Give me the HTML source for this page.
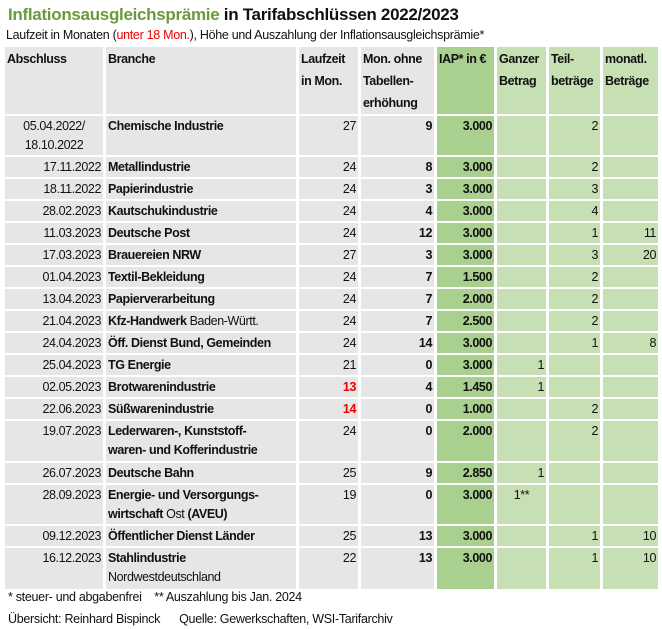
<!DOCTYPE html>
<html><head><meta charset="utf-8"><style>
body{margin:0;background:#fff;width:662px;height:629px;overflow:hidden;font-family:"Liberation Sans",sans-serif;color:#111;}
.t{position:absolute;left:8px;top:5px;font-size:17px;font-weight:bold;letter-spacing:-0.3px;}
.t span{color:#6b9a3c}
.s{position:absolute;left:6px;top:28px;font-size:12.5px;letter-spacing:-0.3px;}
table{position:absolute;left:2px;top:45px;width:659px;table-layout:fixed;border-collapse:separate;border-spacing:3px 2px;font-size:12.5px;letter-spacing:-0.4px;}
td{padding:1px 2px 0 2px;vertical-align:top;line-height:19px;background:#e6e6e6;white-space:nowrap;overflow:hidden}
td.g{background:#a9d08e;font-weight:bold;text-align:right}
td.l{background:#c6e0b4;text-align:right}
td.r{text-align:right}
td.b{font-weight:bold;text-align:right}
.n{font-weight:normal}
tr.h td{font-weight:bold;text-align:left;height:65px;line-height:22px}
tr td:nth-child(2){font-weight:bold}
.red{color:#e00}
.f{position:absolute;left:8px;font-size:12.5px;letter-spacing:-0.3px}
</style></head><body>
<div class="t"><span>Inflationsausgleichsprämie</span> in Tarifabschlüssen 2022/2023</div>
<div class="s">Laufzeit in Monaten (<span class="red">unter 18 Mon.</span>), Höhe und Auszahlung der Inflationsausgleichsprämie*</div>
<table>
<colgroup><col style="width:98px"><col style="width:190px"><col style="width:59px"><col style="width:73px"><col style="width:57px"><col style="width:49px"><col style="width:51px"><col style="width:55px"></colgroup>
<tr class="h"><td>Abschluss</td><td>Branche</td><td>Laufzeit<br>in Mon.</td><td>Mon. ohne<br>Tabellen-<br>erhöhung</td><td class="g" style="text-align:left">IAP* in €</td><td class="l" style="text-align:left">Ganzer<br>Betrag</td><td class="l" style="text-align:left">Teil-<br>beträge</td><td class="l" style="text-align:left">monatl.<br>Beträge</td></tr>
<tr style="height:38px"><td class="r" style="text-align:center">05.04.2022/<br>18.10.2022</td><td>Chemische Industrie</td><td class="r">27</td><td class="b">9</td><td class="g">3.000</td><td class="l"></td><td class="l">2</td><td class="l"></td></tr>
<tr><td class="r">17.11.2022</td><td>Metallindustrie</td><td class="r">24</td><td class="b">8</td><td class="g">3.000</td><td class="l"></td><td class="l">2</td><td class="l"></td></tr>
<tr><td class="r">18.11.2022</td><td>Papierindustrie</td><td class="r">24</td><td class="b">3</td><td class="g">3.000</td><td class="l"></td><td class="l">3</td><td class="l"></td></tr>
<tr><td class="r">28.02.2023</td><td>Kautschukindustrie</td><td class="r">24</td><td class="b">4</td><td class="g">3.000</td><td class="l"></td><td class="l">4</td><td class="l"></td></tr>
<tr><td class="r">11.03.2023</td><td>Deutsche Post</td><td class="r">24</td><td class="b">12</td><td class="g">3.000</td><td class="l"></td><td class="l">1</td><td class="l">11</td></tr>
<tr><td class="r">17.03.2023</td><td>Brauereien NRW</td><td class="r">27</td><td class="b">3</td><td class="g">3.000</td><td class="l"></td><td class="l">3</td><td class="l">20</td></tr>
<tr><td class="r">01.04.2023</td><td>Textil-Bekleidung</td><td class="r">24</td><td class="b">7</td><td class="g">1.500</td><td class="l"></td><td class="l">2</td><td class="l"></td></tr>
<tr><td class="r">13.04.2023</td><td>Papierverarbeitung</td><td class="r">24</td><td class="b">7</td><td class="g">2.000</td><td class="l"></td><td class="l">2</td><td class="l"></td></tr>
<tr><td class="r">21.04.2023</td><td>Kfz-Handwerk <span class="n">Baden-Württ.</span></td><td class="r">24</td><td class="b">7</td><td class="g">2.500</td><td class="l"></td><td class="l">2</td><td class="l"></td></tr>
<tr><td class="r">24.04.2023</td><td>Öff. Dienst Bund, Gemeinden</td><td class="r">24</td><td class="b">14</td><td class="g">3.000</td><td class="l"></td><td class="l">1</td><td class="l">8</td></tr>
<tr><td class="r">25.04.2023</td><td>TG Energie</td><td class="r">21</td><td class="b">0</td><td class="g">3.000</td><td class="l">1</td><td class="l"></td><td class="l"></td></tr>
<tr><td class="r">02.05.2023</td><td>Brotwarenindustrie</td><td class="r red" style="font-weight:bold">13</td><td class="b">4</td><td class="g">1.450</td><td class="l">1</td><td class="l"></td><td class="l"></td></tr>
<tr><td class="r">22.06.2023</td><td>Süßwarenindustrie</td><td class="r red" style="font-weight:bold">14</td><td class="b">0</td><td class="g">1.000</td><td class="l"></td><td class="l">2</td><td class="l"></td></tr>
<tr style="height:40px"><td class="r">19.07.2023</td><td>Lederwaren-, Kunststoff-<br>waren- und Kofferindustrie</td><td class="r">24</td><td class="b">0</td><td class="g">2.000</td><td class="l"></td><td class="l">2</td><td class="l"></td></tr>
<tr><td class="r">26.07.2023</td><td>Deutsche Bahn</td><td class="r">25</td><td class="b">9</td><td class="g">2.850</td><td class="l">1</td><td class="l"></td><td class="l"></td></tr>
<tr style="height:39px"><td class="r">28.09.2023</td><td>Energie- und Versorgungs-<br>wirtschaft <span class="n">Ost</span> (AVEU)</td><td class="r">19</td><td class="b">0</td><td class="g">3.000</td><td class="l" style="text-align:center">1**</td><td class="l"></td><td class="l"></td></tr>
<tr><td class="r">09.12.2023</td><td>Öffentlicher Dienst Länder</td><td class="r">25</td><td class="b">13</td><td class="g">3.000</td><td class="l"></td><td class="l">1</td><td class="l">10</td></tr>
<tr style="height:41px"><td class="r">16.12.2023</td><td>Stahlindustrie<br><span class="n">Nordwestdeutschland</span></td><td class="r">22</td><td class="b">13</td><td class="g">3.000</td><td class="l"></td><td class="l">1</td><td class="l">10</td></tr>
</table>
<div class="f" style="top:590px">* steuer- und abgabenfrei&nbsp;&nbsp;&nbsp; ** Auszahlung bis Jan. 2024</div>
<div class="f" style="top:612px">Übersicht: Reinhard Bispinck&nbsp;&nbsp;&nbsp;&nbsp;&nbsp; Quelle: Gewerkschaften, WSI-Tarifarchiv</div>
</body></html>
